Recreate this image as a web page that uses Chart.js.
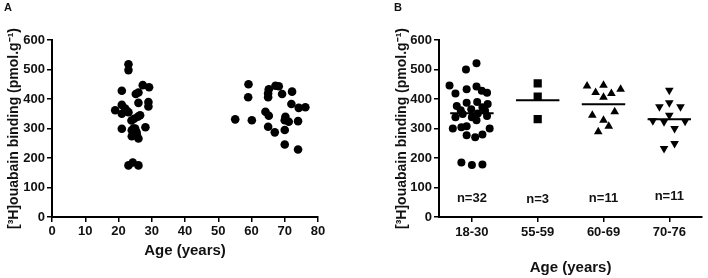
<!DOCTYPE html>
<html>
<head>
<meta charset="utf-8">
<script src="https://cdn.jsdelivr.net/npm/chart.js@4"></script>
<style>
  body { margin: 0; background: #fff; }
  #wrap { position: relative; width: 708px; height: 278px; font-family: "Liberation Sans", Arial, sans-serif; }
  canvas { position: absolute; top: 0; }
  .lab { position: absolute; font-weight: bold; font-size: 11px; color: #111; }
</style>
</head>
<body>
<div id="wrap">
  <canvas id="chartA" width="360" height="278" style="left:0"></canvas>
  <canvas id="chartB" width="348" height="278" style="left:360px"></canvas>
  <div class="lab" style="left:4px;top:1px">A</div>
  <div class="lab" style="left:394px;top:1px">B</div>
</div>
<script>
// panel A: age vs binding
const youngAge = [23, 23, 27.3, 29.2, 21, 25.2, 26, 26, 29, 29, 19, 21, 22, 21, 23, 25.8,
  24.7, 23.9, 21, 24, 25.4, 28.1, 24, 26, 25.5, 23, 24.3, 26, 22.5, 25, 26.5, 24.5];
const youngVal = [518, 498, 447, 440, 428, 417, 422, 387, 390, 375, 362, 380, 368, 350, 355, 340,
  333, 327, 299, 294, 288, 304, 274, 266, 280, 175, 185, 175, 360, 300, 345, 300];
const oldAge = [59.1, 59, 55.1, 60.1, 65.2, 67.2, 68.2, 65, 65, 69.2, 72.2, 72, 74.2, 76.2,
  64.2, 65.2, 70.2, 70, 71.2, 74, 65, 67, 70, 70, 74];
const oldVal = [450, 406, 331, 328, 433, 445, 443, 419, 406, 417, 425, 383, 370, 372,
  357, 343, 340, 328, 323, 325, 306, 287, 295, 246, 229];

// panel B: age groups
const groups = ['18-30', '55-59', '60-69', '70-76'];
const nLabels = ['n=32', 'n=3', 'n=11', 'n=11'];
const nLabelY = [62, 60, 62, 70];
const groupMeans = [352, 396, 382, 331];

const g1Jit = [0.07, -0.09, -0.34, 0.07, -0.08, -0.25, 0.15, 0.23, -0.23, -0.08, 0.08, 0.24, -0.17, -0.01, 0.16, -0.14,
  0.0, 0.09, -0.25, 0.23, 0.07, -0.16, -0.29, 0.27, -0.08, -0.08, 0.05, 0.16, -0.16, 0.0, 0.16, 0.2];
const g1Val = [521, 500, 446, 442, 433, 419, 428, 421, 376, 387, 390, 383, 362, 365, 372, 349,
  338, 351, 338, 342, 328, 304, 300, 300, 308, 277, 270, 280, 185, 176, 178, 360];
const g2Jit = [0, 0, 0];
const g2Val = [453, 408, 332];
const g3Jit = [-0.25, 0, 0.26, -0.12, 0.12, 0, 0.17, -0.17, 0, 0.08, -0.08];
const g3Val = [444, 447, 433, 422, 419, 406, 357, 345, 328, 308, 289];
const g4Jit = [0, -0.15, 0, 0.17, 0, -0.25, -0.08, 0.24, 0.08, 0.08, -0.08];
const g4Val = [430, 374, 387, 374, 345, 326, 323, 325, 300, 249, 232];

const FONT = '"Liberation Sans", Arial, sans-serif';
const INK = '#111';

function pts(xs, ys) { return xs.map((x, i) => ({ x: x, y: ys[i] })); }
function grpPts(k, jit, vals) { return vals.map((v, i) => ({ x: k + 1 + jit[i], y: v })); }

function yAxis(w, pad) {
  return {
    min: 0, max: 600,
    afterFit: s => { s.width = w; },
    ticks: { stepSize: 100, color: INK, padding: 2, font: { family: FONT, size: 13, weight: 'bold' } },
    grid: { drawOnChartArea: false, tickLength: 5, color: '#000', lineWidth: 1.5 },
    border: { color: '#000', width: 2 },
    title: { display: true, text: '[³H]ouabain binding (pmol.g⁻¹)', color: INK,
      padding: { top: pad, bottom: 0 }, font: { family: FONT, size: 14, weight: 'bold' } }
  };
}

const dotStyle = { pointBackgroundColor: '#000', pointBorderColor: '#000', pointBorderWidth: 0 };

new Chart(document.getElementById('chartA'), {
  type: 'scatter',
  data: {
    datasets: [
      Object.assign({ data: pts(youngAge, youngVal), pointRadius: 4.3 }, dotStyle),
      Object.assign({ data: pts(oldAge, oldVal), pointRadius: 4.3 }, dotStyle)
    ]
  },
  options: {
    responsive: false, animation: false,
    layout: { padding: { left: 0, top: 40, right: 42, bottom: 0 } },
    plugins: { legend: { display: false }, tooltip: { enabled: false } },
    scales: {
      x: {
        min: 0, max: 80,
        afterFit: s => { s.height = 61; },
        ticks: { stepSize: 10, color: INK, padding: 2, maxRotation: 0, font: { family: FONT, size: 13, weight: 'bold' } },
        grid: { drawOnChartArea: false, tickLength: 5, color: '#000', lineWidth: 1.5 },
        border: { color: '#000', width: 2 },
        title: { display: true, text: 'Age (years)', color: INK, padding: { top: 0, bottom: 18 },
          font: { family: FONT, size: 15, weight: 'bold' } }
      },
      y: yAxis(52, 6)
    }
  }
});

// n= labels under each group
const nLabelPlugin = {
  id: 'nLabels',
  afterDatasetsDraw(chart) {
    const { ctx, scales: { x, y } } = chart;
    ctx.save();
    ctx.fillStyle = INK;
    ctx.font = 'bold 13px ' + FONT;
    ctx.textAlign = 'center';
    ctx.textBaseline = 'middle';
    nLabels.forEach((t, i) => ctx.fillText(t, x.getPixelForValue(i + 1), y.getPixelForValue(nLabelY[i])));
    ctx.restore();
  }
};

const meanSets = groupMeans.map((m, i) => ({
  data: [{ x: i + 1 - 0.33, y: m }, { x: i + 1 + 0.33, y: m }],
  showLine: true, pointRadius: 0, borderColor: '#000', borderWidth: 2
}));

new Chart(document.getElementById('chartB'), {
  type: 'scatter',
  data: {
    datasets: [
      Object.assign({ data: grpPts(0, g1Jit, g1Val), pointRadius: 4, pointStyle: 'circle' }, dotStyle),
      Object.assign({ data: grpPts(1, g2Jit, g2Val), pointRadius: 5.8, pointStyle: 'rect' }, dotStyle),
      Object.assign({ data: grpPts(2, g3Jit, g3Val), pointRadius: 5, pointStyle: 'triangle' }, dotStyle),
      Object.assign({ data: grpPts(3, g4Jit, g4Val), pointRadius: 5, pointStyle: 'triangle', pointRotation: 180 }, dotStyle)
    ].concat(meanSets)
  },
  options: {
    responsive: false, animation: false,
    layout: { padding: { left: 28, top: 40, right: 3, bottom: 0 } },
    plugins: { legend: { display: false }, tooltip: { enabled: false } },
    scales: {
      x: {
        min: 0.5, max: 4.5,
        afterFit: s => { s.height = 61; },
        afterBuildTicks: s => { s.ticks = groups.map((g, i) => ({ value: i + 1 })); },
        ticks: { color: INK, padding: 3, maxRotation: 0, autoSkip: false,
          callback: v => groups[v - 1], font: { family: FONT, size: 13, weight: 'bold' } },
        grid: { drawOnChartArea: false, tickLength: 5, color: '#000', lineWidth: 1.5 },
        border: { color: '#000', width: 2 },
        title: { display: true, text: 'Age (years)', color: INK, padding: { top: 0, bottom: 1 },
          font: { family: FONT, size: 15, weight: 'bold' } }
      },
      y: yAxis(51, 6)
    }
  },
  plugins: [nLabelPlugin]
});
</script>
</body>
</html>
